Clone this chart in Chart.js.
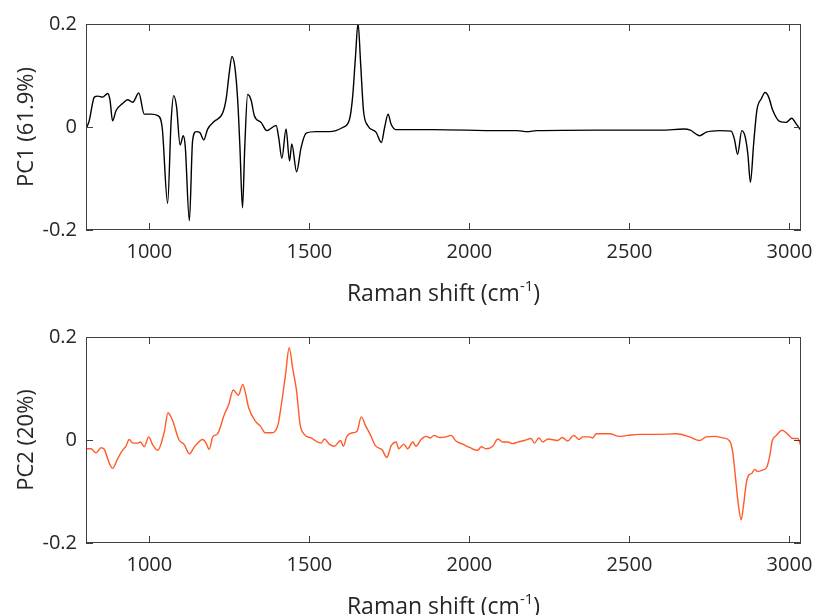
<!DOCTYPE html>
<html>
<head>
<meta charset="utf-8">
<title>PCA loadings</title>
<script src="https://cdn.jsdelivr.net/npm/chart.js@4.4.1/dist/chart.umd.min.js"></script>
<style>
  html, body { margin: 0; padding: 0; background: #fff; overflow: hidden; }
  .panel { position: absolute; left: 0; width: 814px; height: 307px; }
</style>
</head>
<body>
<div class="panel" style="top:0"><canvas id="pc1" width="814" height="307"></canvas></div>
<div class="panel" style="top:313px"><canvas id="pc2" width="814" height="307"></canvas></div>
<script>
// ---------- Data ----------
const xTicks = [1000, 1500, 2000, 2500, 3000];
const yTicks = [-0.2, 0, 0.2];

const pc1Shift = [802, 812, 828, 839, 854, 870, 877, 885, 896, 917, 932, 948, 967, 984, 1005, 1026, 1040, 1057, 1068, 1076,
  1085, 1096, 1106, 1112, 1125, 1135, 1146, 1158, 1170, 1182, 1203, 1229, 1240, 1250, 1258, 1267, 1276, 1283, 1291, 1298,
  1307, 1318, 1328, 1349, 1367, 1396, 1404, 1414, 1427, 1438, 1445, 1460, 1474, 1490, 1521, 1562, 1604, 1625, 1635, 1644,
  1652, 1660, 1669, 1682, 1708, 1725, 1735, 1746, 1755, 1771, 1885, 2094, 2150, 2180, 2210, 2400, 2600, 2670, 2690, 2719,
  2740, 2781, 2818, 2828, 2838, 2851, 2862, 2870, 2878, 2888, 2898, 2912, 2924, 2935, 2948, 2969, 2990, 3007, 3021, 3036];
const pc1Load = [-0.004, 0.012, 0.058, 0.060, 0.058, 0.065, 0.052, 0.012, 0.032, 0.046, 0.053, 0.048, 0.066, 0.025, 0.025, 0.022, -0.001, -0.148, 0.012, 0.061,
  0.039, -0.035, -0.017, -0.037, -0.182, -0.027, -0.009, -0.011, -0.025, -0.004, 0.011, 0.027, 0.055, 0.107, 0.137, 0.117, 0.052, -0.040, -0.157, -0.040,
  0.063, 0.052, 0.022, 0.009, -0.007, 0.003, -0.020, -0.061, -0.004, -0.066, -0.033, -0.087, -0.040, -0.012, -0.009, -0.009, -0.001, 0.014, 0.058, 0.137,
  0.202, 0.124, 0.032, 0.003, -0.010, -0.030, -0.001, 0.025, 0.006, -0.005, -0.005, -0.007, -0.007, -0.009, -0.007, -0.006, -0.006, -0.004, -0.006, -0.017,
  -0.010, -0.007, -0.008, -0.024, -0.053, -0.007, -0.020, -0.053, -0.107, -0.033, 0.032, 0.055, 0.067, 0.058, 0.032, 0.011, 0.009, 0.017, 0.006, -0.007];

const pc2Shift = [802, 818, 833, 849, 859, 873, 885, 901, 917, 927, 937, 948, 963, 972, 984, 998, 1010, 1026, 1047, 1058,
  1073, 1092, 1109, 1125, 1141, 1167, 1177, 1187, 1198, 1213, 1234, 1248, 1262, 1278, 1292, 1300, 1310, 1333, 1347, 1362,
  1380, 1401, 1411, 1425, 1437, 1448, 1460, 1471, 1484, 1505, 1537, 1547, 1562, 1578, 1597, 1606, 1617, 1635, 1649, 1662,
  1676, 1690, 1706, 1727, 1742, 1755, 1771, 1779, 1795, 1807, 1823, 1833, 1849, 1865, 1878, 1889, 1906, 1927, 1943, 1958,
  1979, 2002, 2026, 2037, 2052, 2073, 2089, 2104, 2120, 2135, 2151, 2172, 2193, 2203, 2217, 2229, 2245, 2276, 2290, 2307,
  2326, 2342, 2354, 2375, 2385, 2396, 2438, 2469, 2495, 2531, 2583, 2646, 2688, 2719, 2740, 2766, 2792, 2813, 2823, 2831,
  2840, 2849, 2857, 2865, 2873, 2882, 2891, 2901, 2917, 2929, 2938, 2946, 2959, 2977, 2995, 3010, 3026, 3036];
const pc2Load = [-0.017, -0.017, -0.025, -0.015, -0.018, -0.042, -0.055, -0.036, -0.019, -0.012, 0.001, -0.006, -0.006, -0.004, -0.013, 0.006, -0.009, -0.020, 0.017, 0.053,
  0.037, 0.001, -0.009, -0.027, -0.013, 0.001, -0.006, -0.018, 0.006, 0.012, 0.049, 0.069, 0.097, 0.087, 0.108, 0.092, 0.063, 0.035, 0.027, 0.014,
  0.014, 0.027, 0.063, 0.125, 0.179, 0.138, 0.095, 0.030, 0.011, 0.004, -0.006, 0.002, -0.008, -0.012, -0.001, -0.012, 0.007, 0.014, 0.017, 0.045,
  0.027, 0.011, -0.011, -0.019, -0.034, -0.012, -0.004, -0.017, -0.008, -0.017, -0.004, -0.012, 0.001, 0.007, 0.004, 0.009, 0.005, 0.006, 0.009, -0.002,
  -0.008, -0.015, -0.020, -0.013, -0.017, -0.012, 0.002, -0.004, -0.004, -0.007, -0.004, -0.001, 0.003, -0.006, 0.004, -0.004, 0.002, -0.001, 0.005, -0.002,
  0.009, 0.001, 0.006, 0.006, 0.004, 0.012, 0.012, 0.007, 0.009, 0.011, 0.011, 0.012, 0.006, -0.001, 0.006, 0.007, 0.004, -0.002, -0.025, -0.071,
  -0.124, -0.155, -0.124, -0.084, -0.068, -0.065, -0.057, -0.061, -0.058, -0.053, -0.032, -0.002, 0.009, 0.019, 0.011, 0.003, 0.003, -0.012];

// ---------- Styles ----------
const fontFamily = "'Open Sans', 'Noto Sans', sans-serif";
const textColor = '#262626';
const axisColor = '#404040';

// frame, inward ticks on all four sides, and the x title with a superscript
const framePlugin = {
  id: 'frame',
  afterDraw(chart) {
    const { ctx, chartArea: a, scales: { x, y } } = chart;
    ctx.save();
    ctx.strokeStyle = axisColor;
    ctx.lineWidth = 1;
    ctx.beginPath();
    x.ticks.forEach(t => {
      const px = Math.round(x.getPixelForValue(t.value)) + 0.5;
      ctx.moveTo(px, a.bottom); ctx.lineTo(px, a.bottom - 7);
      ctx.moveTo(px, a.top); ctx.lineTo(px, a.top + 7);
    });
    y.ticks.forEach(t => {
      const py = Math.round(y.getPixelForValue(t.value)) + 0.5;
      ctx.moveTo(a.left, py); ctx.lineTo(a.left + 7, py);
      ctx.moveTo(a.right, py); ctx.lineTo(a.right - 7, py);
    });
    ctx.stroke();
    ctx.strokeRect(a.left + 0.5, a.top + 0.5, a.right - a.left - 1, a.bottom - a.top - 1);

    // x axis title: Raman shift (cm^-1)
    const main = '23px ' + fontFamily;
    const sup = '15px ' + fontFamily;
    const partA = 'Raman shift (cm', partB = '-1', partC = ')';
    ctx.fillStyle = textColor;
    ctx.textBaseline = 'alphabetic';
    ctx.font = main;
    const wA = ctx.measureText(partA).width, wC = ctx.measureText(partC).width;
    ctx.font = sup;
    const wB = ctx.measureText(partB).width;
    let tx = (a.left + a.right) / 2 - (wA + wB + wC) / 2;
    const ty = a.bottom + 71;
    ctx.font = main; ctx.fillText(partA, tx, ty); tx += wA;
    ctx.font = sup; ctx.fillText(partB, tx, ty - 10); tx += wB;
    ctx.font = main; ctx.fillText(partC, tx, ty);
    ctx.restore();
  }
};

function makeChart(id, xs, ys, color, yTitle) {
  const ctx = document.getElementById(id).getContext('2d');
  return new Chart(ctx, {
    type: 'line',
    data: {
      datasets: [{
        data: xs.map((v, i) => ({ x: v, y: ys[i] })),
        borderColor: color,
        borderWidth: 1.4,
        pointRadius: 0,
        fill: false,
        cubicInterpolationMode: 'monotone'
      }]
    },
    options: {
      responsive: false,
      animation: false,
      devicePixelRatio: 1,
      layout: { padding: { top: 24, right: 13, left: 0, bottom: 0 } },
      plugins: { legend: { display: false }, tooltip: { enabled: false } },
      scales: {
        x: {
          type: 'linear',
          min: 802,
          max: 3036,
          afterBuildTicks: s => { s.ticks = xTicks.map(v => ({ value: v })); },
          afterFit: s => { s.height = 77; s.paddingLeft = 0; s.paddingRight = 0; },
          grid: { display: false, drawTicks: false },
          border: { display: false },
          ticks: {
            color: textColor,
            font: { family: fontFamily, size: 20 },
            padding: 10,
            maxRotation: 0,
            callback: v => String(v)
          }
        },
        y: {
          min: -0.2,
          max: 0.2,
          afterBuildTicks: s => { s.ticks = yTicks.map(v => ({ value: v })); },
          afterFit: s => { s.width = 86; s.paddingTop = 0; s.paddingBottom = 0; },
          grid: { display: false, drawTicks: false },
          border: { display: false },
          ticks: {
            color: textColor,
            font: { family: fontFamily, size: 20 },
            padding: 9,
            callback: v => (v === 0 ? '0' : String(v))
          },
          title: {
            display: true,
            text: yTitle,
            color: textColor,
            font: { family: fontFamily, size: 22 },
            padding: { top: 14, bottom: 0 }
          }
        }
      }
    },
    plugins: [framePlugin]
  });
}

makeChart('pc1', pc1Shift, pc1Load, '#000000', 'PC1 (61.9%)');
makeChart('pc2', pc2Shift, pc2Load, '#FF5A28', 'PC2 (20%)');
</script>
</body>
</html>
